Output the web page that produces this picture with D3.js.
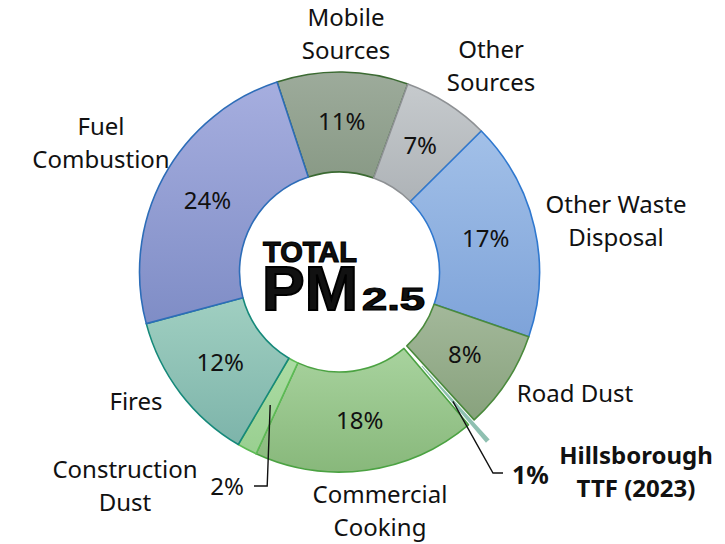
<!DOCTYPE html>
<html>
<head>
<meta charset="utf-8">
<script src="https://cdn.jsdelivr.net/npm/d3@7"></script>
<style>
  body{margin:0;background:#fff;}
  svg text{font-family:"Noto Sans",sans-serif;fill:#111;}
</style>
</head>
<body>
<svg id="chart" width="725" height="544"></svg>
<script>
// sources, clockwise from the top
var sources = ['Mobile Sources','Other Sources','Other Waste Disposal','Road Dust','Hillsborough TTF (2023)','Commercial Cooking','Construction Dust','Fires','Fuel Combustion'];
var shares = [10.6, 7.0, 17.7, 8.0, 0.6, 18.0, 1.6, 12.4, 24.1];
var pctLabels = ['11%','7%','17%','8%','1%','18%','2%','12%','24%'];
var fillTop = ['#9dab9b','#c6cacd','#a2c0e8','#a3b89a','#8fc0b1','#a8d39e','#acdca4','#a0cfc1','#a6aedf'];
var fillBottom = ['#899a86','#aeb3b7','#7ea3d9','#88a27d','#8fc0b1','#88b87b','#99cf90','#7db4aa','#7f8dc6'];
var strokes = ['#3b6a32','#8e9194','#2f78cf','#4a8a3c','#8fc0b1','#4ba242','#5dbb55','#16897a','#2d6db8'];

var svg = d3.select('#chart');
var cx = 339.5, cy = 272, rOuter = 200, rInner = 100;
var deg = Math.PI / 180;
var fs = '24px';

var pie = d3.pie().sort(null).value(function(d){ return d; })
  .startAngle(-18.2 * deg).endAngle(341.8 * deg);
var arcs = pie(shares);

var arc = d3.arc().innerRadius(rInner).outerRadius(rOuter);
var labelArc = d3.arc().innerRadius(150).outerRadius(150);
var sliverArc = d3.arc().innerRadius(rInner).outerRadius(rOuter).padAngle(0.012);

//gradients
var defs = svg.append('defs');
arcs.forEach(function(a, i){
  var g = defs.append('linearGradient').attr('id', 'g' + i)
    .attr('x1', 0).attr('y1', 0).attr('x2', 0).attr('y2', 1);
  g.append('stop').attr('offset', '0%').attr('stop-color', fillTop[i]);
  g.append('stop').attr('offset', '100%').attr('stop-color', fillBottom[i]);
});

var ring = svg.append('g').attr('transform', 'translate(' + cx + ',' + cy + ')');
var hills = 4; //the exploded one

ring.selectAll('path.slice')
  .data(arcs.filter(function(a){ return a.index != hills; }))
  .enter().append('path')
  .attr('class', 'slice')
  .attr('d', arc)
  .attr('fill', function(d){ return 'url(#g' + d.index + ')'; })
  .attr('stroke', function(d){ return strokes[d.index]; })
  .attr('stroke-width', 1.6)
  .attr('stroke-linejoin', 'round');

//pulled-out sliver
var h = arcs[hills];
var mid = (h.startAngle + h.endAngle) / 2;
var pull = 25;
var hx = Math.sin(mid) * pull, hy = -Math.cos(mid) * pull;
ring.append('path')
  .attr('d', sliverArc(h))
  .attr('transform', 'translate(' + hx + ',' + hy + ')')
  .attr('fill', fillTop[hills]);

//percent labels inside
ring.selectAll('text.pct')
  .data(arcs.filter(function(a){ return a.index != hills && a.index != 6; }))
  .enter().append('text')
  .attr('class', 'pct')
  .attr('transform', function(d){ return 'translate(' + labelArc.centroid(d) + ')'; })
  .attr('text-anchor', 'middle')
  .attr('dy', '0.35em')
  .style('font-size', fs)
  .text(function(d){ return pctLabels[d.index]; });

//leader lines
var c2 = labelArc.centroid(arcs[6]);
var p2 = [cx + c2[0], cy + c2[1]];
svg.append('path')
  .attr('d', 'M' + p2[0] + ',' + p2[1] + 'L' + (p2[0] - 3) + ',486L254,486')
  .attr('fill', 'none').attr('stroke', '#111').attr('stroke-width', 1.4);
svg.append('text').attr('x', 244).attr('y', 487).attr('dy', '0.35em')
  .attr('text-anchor', 'end').style('font-size', fs).text(pctLabels[6]);

var hc = d3.arc().innerRadius(172).outerRadius(172).centroid(h);
var p1 = [cx + hc[0], cy + hc[1]];
svg.append('path')
  .attr('d', 'M' + p1[0] + ',' + p1[1] + 'L493,473L503,473')
  .attr('fill', 'none').attr('stroke', '#111').attr('stroke-width', 1.4);
svg.append('text').attr('x', 512).attr('y', 475).attr('dy', '0.35em')
  .style('font-size', '25px').style('font-weight', 'bold').text(pctLabels[hills]);

//category labels
var catLabels = [
  {lines: ['Mobile', 'Sources'], x: 346, y: 18},
  {lines: ['Other', 'Sources'], x: 491, y: 50},
  {lines: ['Other Waste', 'Disposal'], x: 616, y: 205},
  {lines: ['Road Dust'], x: 575, y: 394},
  {lines: ['Hillsborough', 'TTF (2023)'], x: 636, y: 456, bold: true},
  {lines: ['Commercial', 'Cooking'], x: 380, y: 495},
  {lines: ['Construction', 'Dust'], x: 125, y: 470},
  {lines: ['Fires'], x: 136, y: 402},
  {lines: ['Fuel', 'Combustion'], x: 101, y: 127}
];
catLabels.forEach(function(c){
  var t = svg.append('text')
    .attr('text-anchor', 'middle')
    .style('font-size', fs)
    .style('font-weight', c.bold ? 'bold' : 'normal');
  c.lines.forEach(function(l, i){
    t.append('tspan').attr('x', c.x).attr('y', c.y + i * 33).attr('dy', '0.35em').text(l);
  });
});

//centre title
var title = svg.append('g');
title.append('text').attr('x', 263).attr('y', 262)
  .style('font-family', '"Liberation Sans", Arial, sans-serif')
  .style('font-size', '30px').style('font-weight', 'bold')
  .attr('stroke', '#000').attr('stroke-width', 1.2)
  .attr('textLength', 94).attr('lengthAdjust', 'spacingAndGlyphs')
  .text('TOTAL');
title.append('text').attr('x', 262).attr('y', 310)
  .style('font-family', '"Liberation Sans", Arial, sans-serif')
  .style('font-size', '63px').style('font-weight', 'bold')
  .attr('stroke', '#000').attr('stroke-width', 2)
  .attr('textLength', 96).attr('lengthAdjust', 'spacingAndGlyphs')
  .text('PM');
title.append('text').attr('x', 362).attr('y', 310)
  .style('font-family', '"Liberation Sans", Arial, sans-serif')
  .style('font-size', '32px').style('font-weight', 'bold')
  .attr('stroke', '#000').attr('stroke-width', 1.2)
  .attr('textLength', 63).attr('lengthAdjust', 'spacingAndGlyphs')
  .text('2.5');
</script>
</body>
</html>
